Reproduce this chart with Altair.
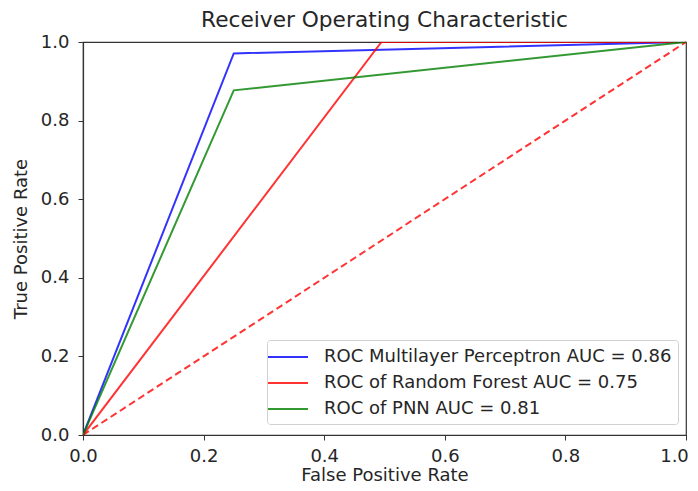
import altair as alt
import pandas as pd

series = ["ROC Multilayer Perceptron AUC = 0.86",
          "ROC of Random Forest AUC = 0.75",
          "ROC of PNN AUC = 0.81"]
colors = ["#0000ff", "#ff0000", "#008000"]
fpr = [[0.0, 0.25, 1.0], [0.0, 0.495, 1.0], [0.0, 0.25, 1.0]]
tpr = [[0.0, 0.971, 1.0], [0.0, 1.0, 1.0], [0.0, 0.877, 1.0]]
diag_x = [0.0, 1.0]
diag_y = [0.0, 1.0]
ticks = [0.0, 0.2, 0.4, 0.6, 0.8, 1.0]

rows = []
for s, xs, ys in zip(series, fpr, tpr):
    for i, (xv, yv) in enumerate(zip(xs, ys)):
        rows.append({"series": s, "fpr": xv, "tpr": yv, "ord": i})
df = pd.DataFrame(rows)
diag = pd.DataFrame({"fpr": diag_x, "tpr": diag_y})

FONT = "DejaVu Sans"
TXT = "#262626"
xscale = alt.Scale(domain=[0, 1], nice=False, zero=False)
yscale = alt.Scale(domain=[0, 1], nice=False, zero=False)
xaxis = alt.Axis(values=ticks, format=".1f", title="False Positive Rate", grid=False,
                 labelFlush=False, labelOverlap=False, labelPadding=7, titlePadding=1,
                 labelOffset={"condition": {"test": "datum.value === 1", "value": -12},
                              "value": 0})
yaxis = alt.Axis(values=ticks, format=".1f", title="True Positive Rate", grid=False,
                 labelFlush=False, labelOverlap=False, labelPadding=9, titlePadding=10)

lines = alt.Chart(df).mark_line(strokeWidth=2, opacity=0.8, clip=True).encode(
    x=alt.X("fpr:Q", scale=xscale, axis=xaxis),
    y=alt.Y("tpr:Q", scale=yscale, axis=yaxis),
    color=alt.Color("series:N", scale=alt.Scale(domain=series, range=colors),
                    sort=series,
                    legend=alt.Legend(title=None, orient="none", legendX=184, legendY=298,
                                      symbolType="M-2,0H2", symbolSize=400,
                                      symbolStrokeWidth=2, symbolOffset=4,
                                      labelFontSize=18, labelLimit=0,
                                      labelFont=FONT, labelColor=TXT,
                                      labelOffset=25, rowPadding=6,
                                      padding=6, strokeColor="#d0d0d0",
                                      fillColor="white", cornerRadius=3)),
    order="ord:Q",
)

dashed = alt.Chart(diag).mark_line(strokeWidth=2, strokeDash=[7, 4], color="#ff0000",
                                   opacity=0.8).encode(
    x=alt.X("fpr:Q", scale=xscale),
    y=alt.Y("tpr:Q", scale=yscale),
)

chart = (dashed + lines).properties(
    width=603, height=393,
    title=alt.TitleParams("Receiver Operating Characteristic", font=FONT, fontSize=21.7,
                          fontWeight="normal", color=TXT, offset=1),
    autosize=alt.AutoSizeParams(type="none"),
    padding={"left": 75, "top": 34, "right": 4, "bottom": 48},
).configure_view(stroke="#333333", strokeWidth=1.2).configure_axis(
    labelFont=FONT, titleFont=FONT, labelFontSize=18, titleFontSize=18,
    titleFontWeight="normal", labelColor=TXT, titleColor=TXT,
    domainColor="#333333", tickColor="#333333", tickSize=5,
    domainWidth=1.2,
)

chart.save("out.html", embed_options={"renderer": "svg", "actions": False})
